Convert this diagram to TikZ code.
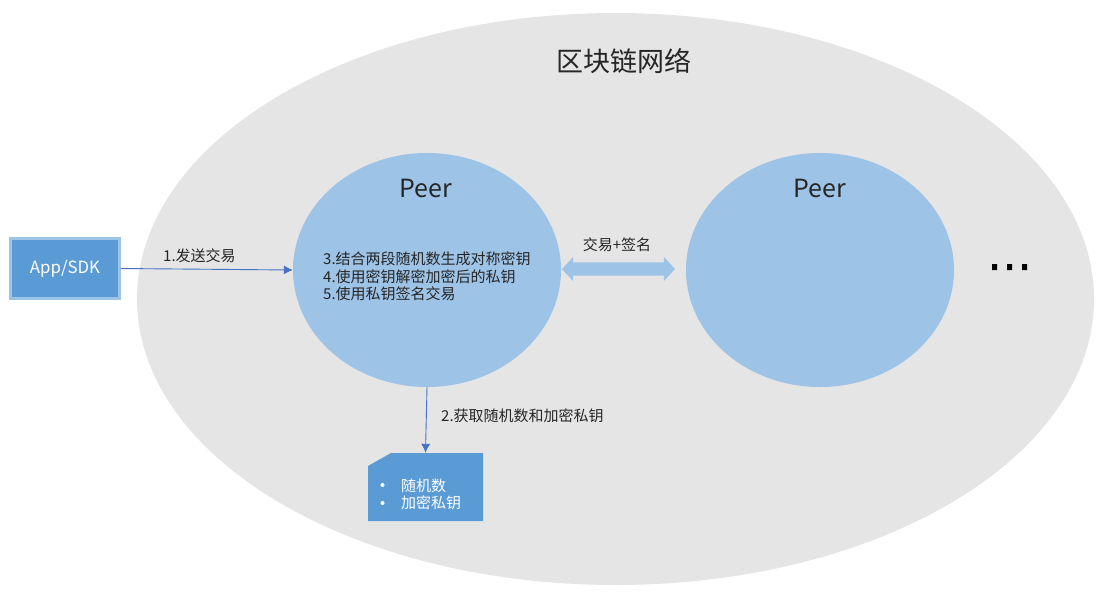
\documentclass[tikz,border=0pt]{standalone}
\usepackage{fontspec}
\setmainfont{Noto Sans CJK SC}
\usetikzlibrary{arrows.meta,shapes.arrows,shapes.geometric}
\definecolor{netgray}{HTML}{E5E5E5}
\definecolor{peerblue}{HTML}{9DC3E6}
\definecolor{boxblue}{HTML}{5B9BD5}
\definecolor{linkblue}{HTML}{4472C4}
\tikzset{
  peer/.style={ellipse,fill=peerblue,inner sep=0,minimum width=268pt,minimum height=234pt},
  lbl/.style={inner sep=0,font=\fontsize{15pt}{17pt}\selectfont,text=black!85,anchor=west},
  link/.style={draw=linkblue,line width=0.9pt,-{Latex[length=9pt,width=9pt]}},
}
\begin{document}
\begin{tikzpicture}[x=1pt,y=-1pt]
\useasboundingbox (0,0) rectangle (1119,598);
\node[ellipse,fill=netgray,inner sep=0,minimum width=957pt,minimum height=572pt] (net) at (615.5,299) {};
\node[inner sep=0,font=\fontsize{27pt}{30pt}\selectfont,text=black!85] (title) at (624,61) {区块链网络};
\node[peer] (p1) at (427,270) {};
\node[peer] (p2) at (820,270) {};
\node[inner sep=0,font=\fontsize{25pt}{28pt}\selectfont,text=black!85] (p1t) at (425.5,188) {Peer};
\node[inner sep=0,font=\fontsize{25pt}{28pt}\selectfont,text=black!85] (p2t) at (820,188.5) {Peer};
\node[draw=peerblue,line width=2.5pt,fill=boxblue,inner sep=0,minimum width=109pt,minimum height=60pt,text=white,font=\fontsize{16.8pt}{20pt}\selectfont] (app) at (65,268.5) {App/SDK};
\fill[boxblue] (368,466) -- (391,453) -- (483,453) -- (483,521) -- (368,521) -- cycle;
\node[inner sep=0,minimum width=115pt,minimum height=68pt] (doc) at (425.5,487) {};
\node[lbl,text=white] (b1) at (401,485.5) {随机数};
\node[lbl,text=white] (b2) at (401,503) {加密私钥};
\fill[white] (382.5,485) circle (2pt) (382.5,503) circle (2pt);
\node[lbl] (l1) at (163,255.5) {1.发送交易};
\node[lbl] (l2) at (441,415.5) {2.获取随机数和加密私钥};
\node[lbl] (l3) at (323,259) {3.结合两段随机数生成对称密钥};
\node[lbl] (l4) at (323,276.5) {4.使用密钥解密加密后的私钥};
\node[lbl] (l5) at (323,294) {5.使用私钥签名交易};
\node[lbl,anchor=center] (l6) at (617,244.5) {交易+签名};
\node[double arrow,fill=peerblue,inner xsep=0,inner ysep=6.5pt,minimum height=113pt,double arrow head extend=5.5pt,double arrow tip angle=95,anchor=center] (dbl) at (618.5,269) {};
\fill[black] (992,264) rectangle (997,270) (1007,264) rectangle (1012,270) (1022,264) rectangle (1027,270);
\draw[link] (app.east) -- (p1.west);
\draw[link] (p1.south) -- (doc.north);
\end{tikzpicture}
\end{document}
